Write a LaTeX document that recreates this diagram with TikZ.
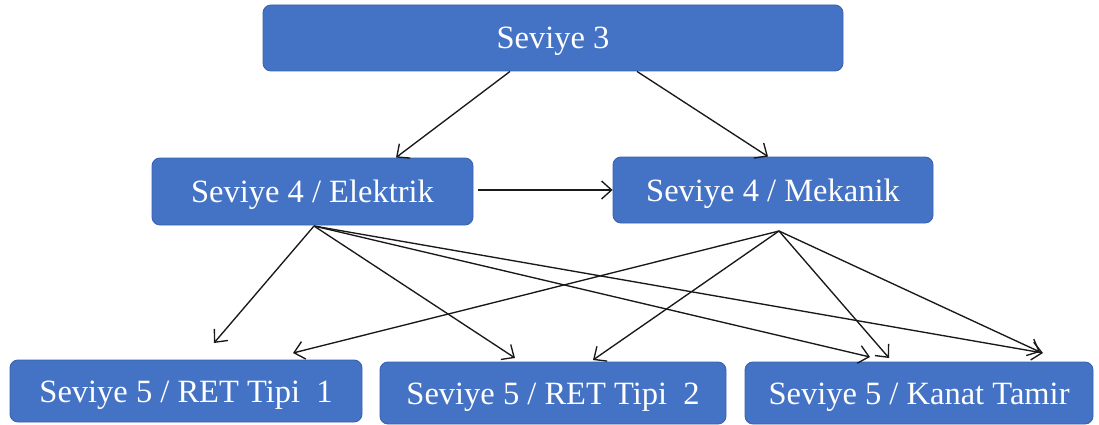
\documentclass[tikz,border=0pt]{standalone}
\usepackage{fontspec}
\setmainfont{Liberation Serif}
\usetikzlibrary{arrows.meta}
\definecolor{boxblue}{HTML}{4472C4}
\definecolor{boxedge}{HTML}{3A62AE}
\begin{document}
\begin{tikzpicture}[x=1pt,y=-1pt,
  levelbox/.style={draw=boxedge, line width=0.9pt, fill=boxblue, rounded corners=8pt,
    text=white, font=\fontsize{32.5}{36}\selectfont, inner sep=0pt,
    text height=27pt, text depth=5pt},
  link/.style={draw=black!90, line width=1.35pt, -{Straight Barb[length=10pt,width=18pt]}}]
\useasboundingbox (0,0) rectangle (1099,425);
% level 3
\node[levelbox, minimum width=580pt, minimum height=66pt] (s3) at (553,38) {Seviye 3};
% level 4
\node[levelbox, minimum width=321pt, minimum height=67pt] (el) at (312.5,191.5) {Seviye 4 / Elektrik};
\node[levelbox, minimum width=320pt, minimum height=66pt] (me) at (773,190) {Seviye 4 / Mekanik};
% level 5
\node[levelbox, minimum width=352pt, minimum height=62pt] (r1) at (186,391) {Seviye 5 / RET Tipi\ \ 1};
\node[levelbox, minimum width=346pt, minimum height=62pt] (r2) at (553,393) {Seviye 5 / RET Tipi\ \ 2};
\node[levelbox, minimum width=348pt, minimum height=62pt] (kt) at (919,393) {Seviye 5 / Kanat Tamir};
% connection points
\coordinate (elo) at (314,226);
\coordinate (meo) at (779,231);
\coordinate (ele) at (478,190);
% arrows from level 3
\draw[link] (s3.south west -| 510,0) -- (el.north -| 396,0);
\draw[link] (s3.south west -| 637,0) -- (me.north -| 768,0);
\draw[link] (ele) -- (ele -| me.west);
% arrows from Elektrik
\draw[link] (elo) -- (214,343);
\draw[link] (elo) -- (515,358);
\draw[link] (elo) -- (870,357);
\draw[link] (elo) -- (1043,353);
% arrows from Mekanik
\draw[link] (meo) -- (293,353);
\draw[link] (meo) -- (593,360);
\draw[link] (meo) -- (889,358);
\draw[link] (meo) -- (1040,352);
\end{tikzpicture}
\end{document}
